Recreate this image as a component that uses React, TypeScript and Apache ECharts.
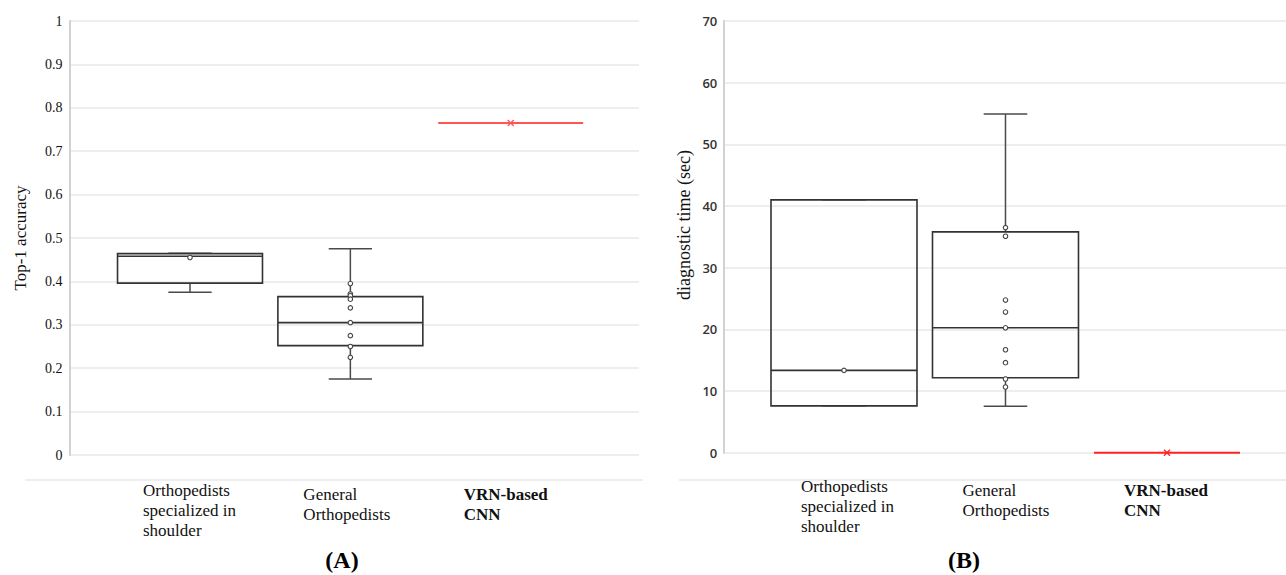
import React, { useEffect, useRef } from "react";
import * as echarts from "echarts";

// ---------- data ----------
const CATEGORIES = ["Orthopedists\nspecialized in\nshoulder", "General\nOrthopedists", "VRN-based\nCNN"];
const CATEGORY_BOLD = [false, false, true];

// Panel A: Top-1 accuracy, boxes as [min, q1, median, q3, max]
const A_BOXES = [
  [0.375, 0.396, 0.458, 0.464, 0.465],
  [0.175, 0.252, 0.305, 0.365, 0.475],
];
const A_POINTS_1 = [0.455];
const A_POINTS_2 = [0.395, 0.371, 0.367, 0.359, 0.339, 0.305, 0.275, 0.25, 0.225];
const A_CNN = [0.765];
const A_TICKS = ["0", "0.1", "0.2", "0.3", "0.4", "0.5", "0.6", "0.7", "0.8", "0.9", "1"];

// Panel B: diagnostic time (sec)
const B_BOXES = [
  [7.6, 7.6, 13.35, 41.0, 41.0],
  [7.55, 12.15, 20.25, 35.8, 54.9],
];
const B_POINTS_1 = [13.35];
const B_POINTS_2 = [36.5, 35.1, 24.75, 22.8, 20.25, 16.7, 14.6, 11.95, 10.65];
const B_CNN = [0];
const B_TICKS = ["0", "10", "20", "30", "40", "50", "60", "70"];

// ---------- styles ----------
const SERIF = "'Liberation Serif', 'Times New Roman', serif";
const SANS = "'Open Sans', 'Noto Sans', sans-serif";
const BOX_W = 0.904;
const CAP_W = 0.27;
const BOX_COLOR = "#333333";
const GRID_COLOR = "#e8e8e8";

function boxSeries(gridIdx: number, boxes: number[][]) {
  return {
    type: "custom",
    xAxisIndex: gridIdx,
    yAxisIndex: gridIdx,
    clip: false,
    silent: true,
    encode: { x: 0, y: [1, 2, 3, 4, 5] },
    data: boxes.map((b, i) => [i, ...b]),
    renderItem: (params: any, api: any) => {
      const x = api.value(0);
      const mn = api.value(1), q1 = api.value(2), md = api.value(3), q3 = api.value(4), mx = api.value(5);
      const cx = api.coord([x, md])[0];
      const y = (v: number) => api.coord([x, v])[1];
      const w = api.size([BOX_W, 0])[0];
      const cw = api.size([CAP_W, 0])[0];
      const st = { stroke: BOX_COLOR, lineWidth: 1.6, fill: null };
      const wst = { stroke: "#4a4a4a", lineWidth: 1.5 };
      return {
        type: "group",
        children: [
          { type: "line", shape: { x1: cx, y1: y(q3), x2: cx, y2: y(mx) }, style: wst },
          { type: "line", shape: { x1: cx, y1: y(q1), x2: cx, y2: y(mn) }, style: wst },
          { type: "line", shape: { x1: cx - cw / 2, y1: y(mx), x2: cx + cw / 2, y2: y(mx) }, style: wst },
          { type: "line", shape: { x1: cx - cw / 2, y1: y(mn), x2: cx + cw / 2, y2: y(mn) }, style: wst },
          { type: "rect", shape: { x: cx - w / 2, y: y(q3), width: w, height: y(q1) - y(q3) }, style: st },
          { type: "line", shape: { x1: cx - w / 2, y1: y(md), x2: cx + w / 2, y2: y(md) }, style: st },
        ],
      };
    },
  };
}

function pointSeries(gridIdx: number, xi: number, vals: number[]) {
  return {
    type: "scatter",
    xAxisIndex: gridIdx,
    yAxisIndex: gridIdx,
    silent: true,
    symbol: "circle",
    symbolSize: 4.5,
    itemStyle: { color: "#ffffff", borderColor: "#444", borderWidth: 1.1, opacity: 1 },
    data: vals.map((v) => [xi, v]),
    z: 3,
  };
}

function cnnSeries(gridIdx: number, xi: number, vals: number[], color: string) {
  return {
    type: "custom",
    xAxisIndex: gridIdx,
    yAxisIndex: gridIdx,
    clip: false,
    silent: true,
    data: vals.map((v) => [xi, v]),
    z: 4,
    renderItem: (params: any, api: any) => {
      const p = api.coord([api.value(0), api.value(1)]);
      const w = api.size([BOX_W, 0])[0];
      const s = 3;
      const st = { stroke: color, lineWidth: 2 };
      return {
        type: "group",
        children: [
          { type: "line", shape: { x1: p[0] - w / 2, y1: p[1], x2: p[0] + w / 2, y2: p[1] }, style: st },
          { type: "line", shape: { x1: p[0] - s, y1: p[1] - s, x2: p[0] + s, y2: p[1] + s }, style: { stroke: color, lineWidth: 1.3 } },
          { type: "line", shape: { x1: p[0] - s, y1: p[1] + s, x2: p[0] + s, y2: p[1] - s }, style: { stroke: color, lineWidth: 1.3 } },
        ],
      };
    },
  };
}

function labelSeries(gridIdx: number, dx: number, dy: number) {
  return {
    type: "custom",
    xAxisIndex: gridIdx,
    yAxisIndex: gridIdx,
    clip: false,
    silent: true,
    data: CATEGORIES.map((_, i) => [i, 0]),
    renderItem: (params: any, api: any) => {
      const i = api.value(0);
      const p = api.coord([i, 0]);
      const text = CATEGORIES[i];
      const n = text.split("\n").length;
      return {
        type: "text",
        x: p[0] + dx,
        y: p[1] + dy - (n - 2) * 4 - 10,
        style: {
          text,
          fill: "#111",
          fontFamily: SERIF,
          fontSize: 17,
          lineHeight: 20,
          fontWeight: CATEGORY_BOLD[i] ? "bold" : "normal",
          align: "left",
          verticalAlign: "top",
        },
      };
    },
  };
}

export default function App() {
  const ref = useRef<HTMLDivElement>(null);
  useEffect(() => {
    if (!ref.current) return;
    const chart = echarts.init(ref.current, undefined, { renderer: "svg" });
    const option: any = {
      animation: false,
      backgroundColor: "#ffffff",
      grid: [
        { left: 69.5, top: 21, width: 569.5, height: 434, containLabel: false },
        { left: 723.3, top: 21, width: 562.7, height: 431.7, containLabel: false },
      ],
      xAxis: [
        { type: "value", gridIndex: 0, min: -0.7515, max: 2.8, show: false },
        { type: "value", gridIndex: 1, min: -0.7474, max: 2.737, show: false },
      ],
      yAxis: [
        {
          type: "value",
          gridIndex: 0,
          min: 0,
          max: 1,
          interval: 0.1,
          axisLine: { show: true, onZero: false, lineStyle: { color: "#d2d2d2", width: 2 } },
          axisTick: { show: false },
          splitLine: { show: true, lineStyle: { color: GRID_COLOR, width: 1.5 } },
          axisLabel: {
            margin: 7,
            fontFamily: SERIF,
            fontSize: 14,
            color: "#111",
            formatter: (v: number) => A_TICKS[Math.round(v * 10)] ?? "",
          },
        },
        {
          type: "value",
          gridIndex: 1,
          min: 0,
          max: 70,
          interval: 10,
          axisLine: { show: true, onZero: false, lineStyle: { color: "#d2d2d2", width: 2 } },
          axisTick: { show: false },
          splitLine: { show: true, lineStyle: { color: GRID_COLOR, width: 1.5 } },
          axisLabel: {
            margin: 6,
            fontFamily: SANS,
            fontSize: 13,
            fontWeight: 600,
            color: "#333",
            formatter: (v: number) => B_TICKS[Math.round(v / 10)] ?? "",
          },
        },
      ],
      graphic: [
        { type: "line", shape: { x1: 25, y1: 480, x2: 643, y2: 480 }, style: { stroke: GRID_COLOR, lineWidth: 1.5 }, silent: true },
        { type: "line", shape: { x1: 679, y1: 480, x2: 1286, y2: 480 }, style: { stroke: GRID_COLOR, lineWidth: 1.5 }, silent: true },
        {
          type: "text", x: 20, y: 238, rotation: Math.PI / 2, silent: true,
          style: { text: "Top-1 accuracy", fill: "#111", fontFamily: SERIF, fontSize: 17, align: "center", verticalAlign: "middle" },
        },
        {
          type: "text", x: 684, y: 225, rotation: Math.PI / 2, silent: true,
          style: { text: "diagnostic time (sec)", fill: "#111", fontFamily: SERIF, fontSize: 18, align: "center", verticalAlign: "middle" },
        },
        {
          type: "text", x: 342, y: 560, silent: true,
          style: { text: "(A)", fill: "#000", fontFamily: SERIF, fontSize: 24, fontWeight: "bold", align: "center", verticalAlign: "middle" },
        },
        {
          type: "text", x: 964, y: 560, silent: true,
          style: { text: "(B)", fill: "#000", fontFamily: SERIF, fontSize: 24, fontWeight: "bold", align: "center", verticalAlign: "middle" },
        },
      ],
      series: [
        boxSeries(0, A_BOXES),
        pointSeries(0, 0, A_POINTS_1),
        pointSeries(0, 1, A_POINTS_2),
        cnnSeries(0, 2, A_CNN, "#ff5555"),
        labelSeries(0, -47, 39),
        boxSeries(1, B_BOXES),
        pointSeries(1, 0, B_POINTS_1),
        pointSeries(1, 1, B_POINTS_2),
        cnnSeries(1, 2, B_CNN, "#ff2222"),
        labelSeries(1, -43, 38),
      ],
    };
    chart.setOption(option);
    return () => chart.dispose();
  }, []);
  return (
    <div
      ref={ref}
      style={{ position: "absolute", left: 0, top: 0, width: 1286, height: 575, background: "#fff" }}
    />
  );
}
